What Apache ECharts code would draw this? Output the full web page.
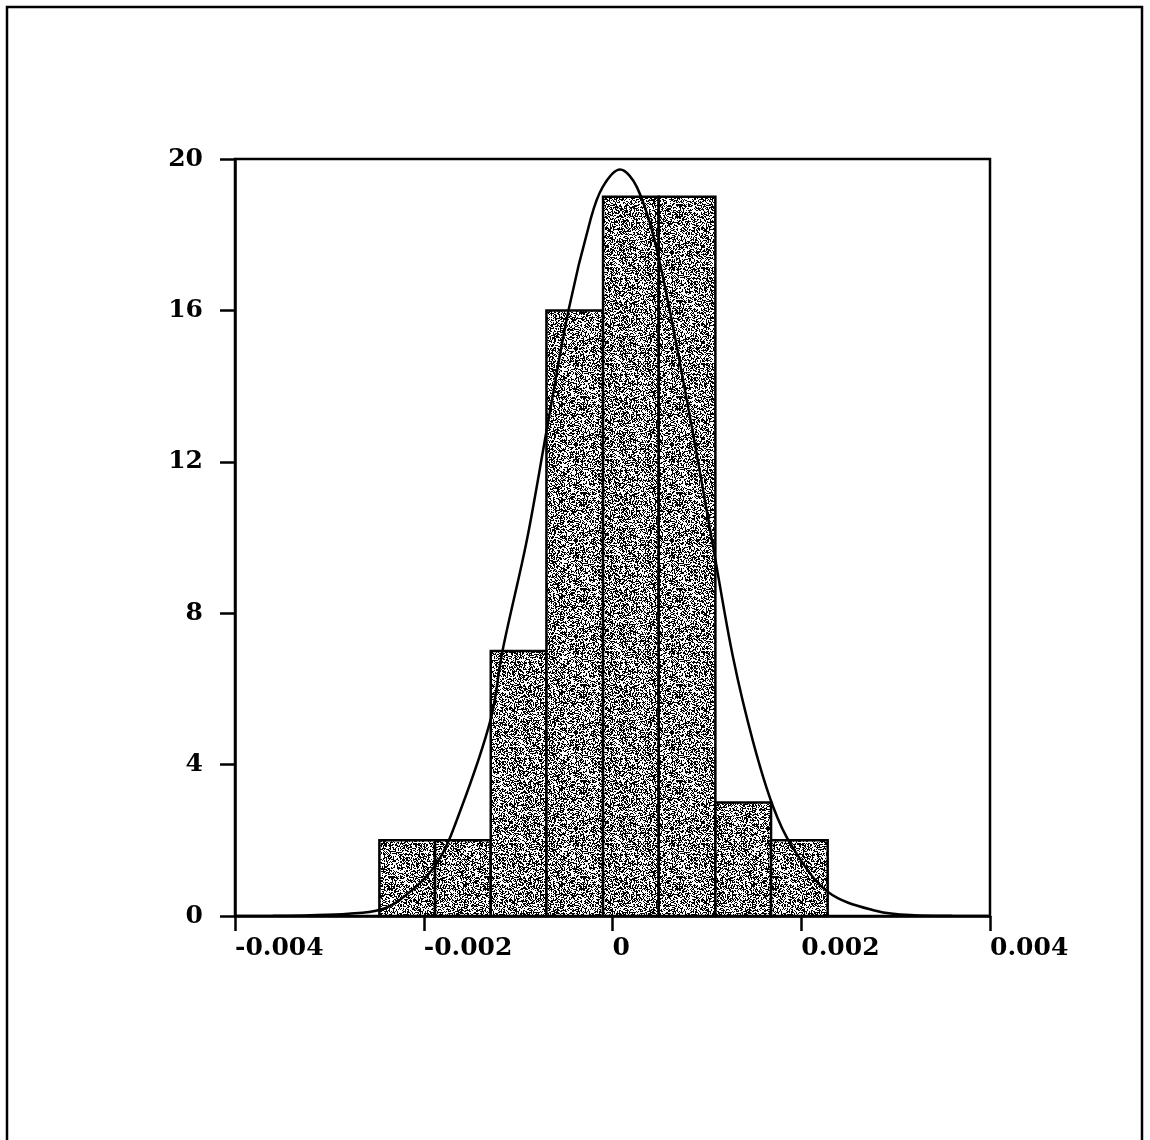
<!DOCTYPE html>
<html>
<head>
<meta charset="utf-8">
<script src="https://cdn.jsdelivr.net/npm/echarts@6/dist/echarts.min.js"></script>
<style>
html,body{margin:0;padding:0;background:#fff;}
#chart{width:1150px;height:1140px;}
</style>
</head>
<body>
<div id="chart"></div>
<script>
// Histogram bins (left and right edges) and counts
var binStart = [-0.00247, -0.00188, -0.00129, -0.00070, -0.00010, 0.00049, 0.00109, 0.00168];
var binEnd   = [-0.00188, -0.00129, -0.00070, -0.00010, 0.00049, 0.00109, 0.00168, 0.00228];
var counts   = [2, 2, 7, 16, 19, 19, 3, 2];

// Fitted curve, points
var curveX = [-0.0040, -0.0036, -0.0032, -0.0028, -0.00247, -0.00224, -0.00187, -0.00161, -0.00129, -0.001166,
              -0.00091, -0.0007, -0.000462, -0.000233, -0.000106, 0.00008, 0.00026, 0.00047, 0.00079,
              0.00107, 0.00128, 0.00149, 0.0017, 0.0019, 0.00228, 0.0028, 0.0032, 0.0036, 0.0040];
var curveY = [0.0, 0.005, 0.02, 0.06, 0.16, 0.45, 1.36, 2.8, 5.2, 7.0,
              9.9, 12.8, 16.05, 18.4, 19.25, 19.72, 19.25, 17.6, 13.6,
              9.7, 6.8, 4.6, 2.9, 1.85, 0.64, 0.13, 0.02, 0.005, 0.0];

// Tick labels
var xTickLabels = ['-0.004', '-0.002', '0', '0.002', '0.004'];
var yTickLabels = ['0', '4', '8', '12', '16', '20'];

// Speckled fill pattern (deterministic hash)
function makePattern() {
  var c = document.createElement('canvas');
  c.width = 96; c.height = 96;
  var ctx = c.getContext('2d');
  ctx.fillStyle = '#ffffff';
  ctx.fillRect(0, 0, 96, 96);
  ctx.fillStyle = '#000000';
  for (var y = 0; y < 96; y++) {
    for (var x = 0; x < 96; x++) {
      var h = Math.sin(x * 12.9898 + y * 78.233) * 43758.5453;
      h = h - Math.floor(h);
      if (h < 0.48) ctx.fillRect(x, y, 1, 1);
    }
  }
  return c;
}
var pattern = makePattern();

var barData = counts.map(function (v, i) { return [binStart[i], binEnd[i], v]; });
var curveData = curveX.map(function (x, i) { return [x, curveY[i]]; });

var chart = echarts.init(document.getElementById('chart'));
var font = '"DejaVu Serif", serif';
chart.setOption({
  backgroundColor: '#ffffff',
  animation: false,
  graphic: [{
    type: 'rect',
    shape: { x: 7, y: 7, width: 1135, height: 1150 },
    style: { fill: 'none', stroke: '#000', lineWidth: 2.5 },
    silent: true
  }],
  grid: {
    left: 235, right: 160, top: 159, bottom: 224,
    show: true, borderColor: '#000', borderWidth: 2.5, backgroundColor: 'transparent'
  },
  xAxis: {
    type: 'value', min: -0.004, max: 0.004, interval: 0.002,
    axisLine: { show: true, onZero: false, lineStyle: { color: '#000', width: 2.5 } },
    axisTick: { show: true, inside: false, length: 15, lineStyle: { color: '#000', width: 2.5 } },
    splitLine: { show: false },
    axisLabel: {
      margin: 20, color: '#000', fontFamily: font, fontWeight: 'bold', fontSize: 25, align: 'left',
      formatter: function (v) { return xTickLabels[Math.round((v + 0.004) / 0.002)]; }
    }
  },
  yAxis: {
    type: 'value', min: 0, max: 20, interval: 4,
    axisLine: { show: true, onZero: false, lineStyle: { color: '#000', width: 2.5 } },
    axisTick: { show: true, inside: false, length: 15, lineStyle: { color: '#000', width: 2.5 } },
    splitLine: { show: false },
    axisLabel: {
      margin: 32, color: '#000', fontFamily: font, fontWeight: 'bold', fontSize: 25,
      formatter: function (v) { return yTickLabels[Math.round(v / 4)]; }
    }
  },
  series: [{
    type: 'custom',
    data: barData,
    encode: { x: [0, 1], y: 2 },
    renderItem: function (params, api) {
      var p0 = api.coord([api.value(0), 0]);
      var p1 = api.coord([api.value(1), api.value(2)]);
      return {
        type: 'rect',
        shape: { x: p0[0], y: p1[1], width: p1[0] - p0[0], height: p0[1] - p1[1] },
        style: { fill: { image: pattern, repeat: 'repeat' }, stroke: '#000', lineWidth: 2.5 }
      };
    },
    z: 2
  }, {
    type: 'line',
    data: curveData,
    smooth: 0.35,
    showSymbol: false,
    symbol: 'none',
    lineStyle: { color: '#000', width: 2.5 },
    z: 3
  }]
});
</script>
</body>
</html>
